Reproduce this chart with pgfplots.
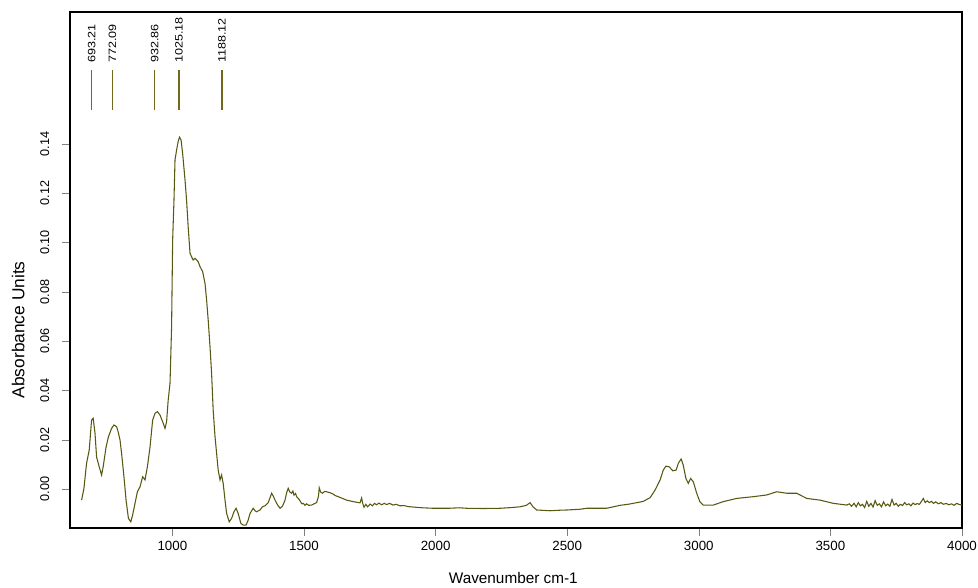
\documentclass[border=0pt]{standalone}
\usepackage{fontspec}
\setmainfont{Liberation Sans}
\usepackage{pgfplots}
\pgfplotsset{compat=1.18}
\definecolor{specline}{RGB}{88,88,18}
\definecolor{markline}{RGB}{115,105,30}
\begin{document}
\begin{tikzpicture}
\begin{axis}[
  at={(0,0)}, anchor=south west,
  scale only axis, width=669pt, height=387pt,
  xmin=611, xmax=4000, ymin=-0.0158, ymax=0.1935,
  xtick={1000,1500,2000,2500,3000,3500,4000},
  ytick={0,0.02,0.04,0.06,0.08,0.10,0.12,0.14},
  tick pos=left, tick align=outside,
  major tick length=6pt,
  /pgf/number format/assume math mode=true,
  xticklabel style={/pgf/number format/1000 sep={}, font=\fontsize{10}{12}\selectfont},
  yticklabel style={/pgf/number format/fixed, /pgf/number format/zerofill,
    /pgf/number format/precision=2, rotate=90, anchor=south, yshift=6pt,
    font=\fontsize{9.5}{11}\selectfont},
  xlabel={Wavenumber cm-1}, ylabel={Absorbance Units},
  xlabel style={at={(axis description cs:0.497,-0.097)}, anchor=center, font=\fontsize{11.5}{13}\selectfont},
  ylabel style={at={(axis description cs:-0.058,0.384)}, anchor=center, rotate=0, font=\fontsize{13}{15}\selectfont},
  axis line style={line width=0.8pt},
  clip=false,
]
\addplot[specline, line width=0.8pt] coordinates {
(655,-0.0045) (664,0.0003) (674,0.0105) (684,0.0158) (693,0.028) (699,0.0287)
(706,0.0227) (712,0.013) (722,0.009) (731,0.0057) (737,0.009) (748,0.017)
(757,0.0212) (769,0.0246) (778,0.026) (788,0.0253) (794,0.0232) (801,0.0199)
(807,0.0145) (816,0.005) (824,-0.0045) (833,-0.0119) (842,-0.0133) (849,-0.0105)
(858,-0.0058) (867,-0.0011) (877,0.0009) (887,0.005) (896,0.0037) (905,0.009)
(915,0.017) (925,0.028) (934,0.0307) (943,0.0314) (953,0.030) (963,0.0273)
(972,0.0246) (978,0.0273) (984,0.036) (991,0.0429) (997,0.0658) (1001,0.101)
(1006,0.117) (1010,0.1335) (1016,0.1375) (1022,0.141) (1027,0.1427) (1033,0.1416)
(1039,0.136) (1048,0.1254) (1054,0.117) (1060,0.1064) (1067,0.0956) (1073,0.0942)
(1079,0.0929) (1086,0.0936) (1092,0.0929) (1098,0.0922) (1105,0.0902) (1115,0.0882)
(1124,0.0834) (1130,0.0767) (1136,0.0686) (1143,0.0577) (1149,0.0469) (1155,0.032)
(1162,0.0212) (1168,0.0145) (1174,0.0077) (1181,0.0037) (1187,0.0057) (1193,0.0023)
(1200,-0.0045) (1206,-0.0099) (1216,-0.0133) (1225,-0.0119) (1234,-0.0092) (1242,-0.0078)
(1250,-0.0099) (1260,-0.0139) (1269,-0.0146) (1280,-0.0146) (1288,-0.0126) (1295,-0.0099)
(1307,-0.0078) (1314,-0.0088) (1320,-0.0092) (1333,-0.0085) (1342,-0.0072) (1352,-0.0068)
(1364,-0.0055) (1371,-0.0035) (1377,-0.0017) (1384,-0.0030) (1390,-0.0045) (1400,-0.0065)
(1409,-0.0078) (1418,-0.0070) (1428,-0.0045) (1434,-0.0015) (1440,0.0003) (1446,-0.0012)
(1453,-0.0017) (1458,-0.0008) (1462,-0.0025) (1468,-0.0018) (1472,-0.0031) (1480,-0.0040)
(1485,-0.0048) (1492,-0.0060) (1497,-0.0058) (1504,-0.0066) (1510,-0.0060) (1518,-0.0066)
(1529,-0.0065) (1538,-0.0060) (1548,-0.0055) (1555,-0.0030) (1558,0.0005) (1563,-0.0012)
(1571,-0.0017) (1578,-0.0010) (1586,-0.0011) (1599,-0.0015) (1610,-0.0020) (1618,-0.0026)
(1637,-0.0034) (1662,-0.0045) (1687,-0.0051) (1713,-0.0056) (1719,-0.0036) (1723,-0.0058)
(1728,-0.0074) (1735,-0.0062) (1742,-0.0072) (1751,-0.0061) (1760,-0.0068) (1768,-0.0058)
(1776,-0.0064) (1785,-0.0057) (1795,-0.0064) (1805,-0.0058) (1814,-0.0063) (1825,-0.0058)
(1838,-0.0065) (1850,-0.0062) (1865,-0.0068) (1880,-0.0067) (1895,-0.0071) (1915,-0.0073)
(1950,-0.0076) (1991,-0.0078) (2050,-0.0078) (2090,-0.0076) (2118,-0.0078) (2180,-0.0079)
(2245,-0.0078) (2290,-0.0075) (2321,-0.0072) (2345,-0.0066) (2359,-0.0055) (2370,-0.0072)
(2384,-0.0085) (2435,-0.0088) (2470,-0.0086) (2498,-0.0085) (2549,-0.0082) (2574,-0.0078)
(2625,-0.0078) (2650,-0.0078) (2701,-0.0066) (2730,-0.0062) (2751,-0.0058) (2789,-0.0050)
(2815,-0.0035) (2834,-0.0004) (2853,0.0037) (2865,0.0077) (2875,0.0093) (2888,0.009)
(2901,0.0074) (2914,0.0077) (2922,0.0104) (2933,0.0122) (2941,0.0097) (2951,0.0043)
(2960,0.0023) (2969,0.0043) (2979,0.003) (2992,-0.0017) (3004,-0.0051) (3017,-0.0065)
(3055,-0.0065) (3093,-0.0051) (3144,-0.0038) (3207,-0.0031) (3258,-0.0024) (3296,-0.0011)
(3334,-0.0017) (3372,-0.0017) (3410,-0.0038) (3461,-0.0045) (3511,-0.0058) (3562,-0.0065)
(3572,-0.0060) (3580,-0.0070) (3590,-0.0058) (3598,-0.0072) (3606,-0.0055) (3614,-0.0068)
(3622,-0.0062) (3630,-0.0075) (3638,-0.0050) (3646,-0.0070) (3654,-0.0058) (3662,-0.0073)
(3670,-0.0047) (3678,-0.0066) (3686,-0.0060) (3694,-0.0072) (3702,-0.0052) (3710,-0.0068)
(3718,-0.0061) (3726,-0.0070) (3734,-0.0042) (3742,-0.0065) (3750,-0.0058) (3758,-0.0070)
(3766,-0.0062) (3774,-0.0067) (3782,-0.0055) (3790,-0.0064) (3798,-0.0060) (3806,-0.0068)
(3814,-0.0057) (3822,-0.0063) (3830,-0.0059) (3838,-0.0062) (3846,-0.0050) (3853,-0.0038)
(3860,-0.0055) (3868,-0.0048) (3876,-0.0055) (3884,-0.0050) (3892,-0.0058) (3900,-0.0052)
(3910,-0.0060) (3920,-0.0055) (3930,-0.0062) (3940,-0.0058) (3950,-0.0064) (3960,-0.0060)
(3970,-0.0066) (3980,-0.0058) (3990,-0.0063) (4000,-0.0065)
};
\addplot[markline, line width=1pt, unbounded coords=jump] coordinates {
(693.21,0.1538) (693.21,0.170) (693.21,nan)
(772.09,0.1538) (772.09,0.170) (772.09,nan)
(932.86,0.1538) (932.86,0.170) (932.86,nan)
(1025.18,0.1538) (1025.18,0.170) (1025.18,nan)
(1188.12,0.1538) (1188.12,0.170)
};
\node[rotate=90, xscale=1.18, anchor=west, inner sep=1pt, font=\fontsize{8}{9}\selectfont] at (axis cs:693.21,0.1722) {693.21};
\node[rotate=90, xscale=1.18, anchor=west, inner sep=1pt, font=\fontsize{8}{9}\selectfont] at (axis cs:772.09,0.1722) {772.09};
\node[rotate=90, xscale=1.18, anchor=west, inner sep=1pt, font=\fontsize{8}{9}\selectfont] at (axis cs:932.86,0.1722) {932.86};
\node[rotate=90, xscale=1.18, anchor=west, inner sep=1pt, font=\fontsize{8}{9}\selectfont] at (axis cs:1025.18,0.1722) {1025.18};
\node[rotate=90, xscale=1.18, anchor=west, inner sep=1pt, font=\fontsize{8}{9}\selectfont] at (axis cs:1188.12,0.1722) {1188.12};
\end{axis}
\pgfresetboundingbox
\path[use as bounding box] (-52.5pt,-45pt) rectangle (681pt,396pt);
\end{tikzpicture}
\end{document}
